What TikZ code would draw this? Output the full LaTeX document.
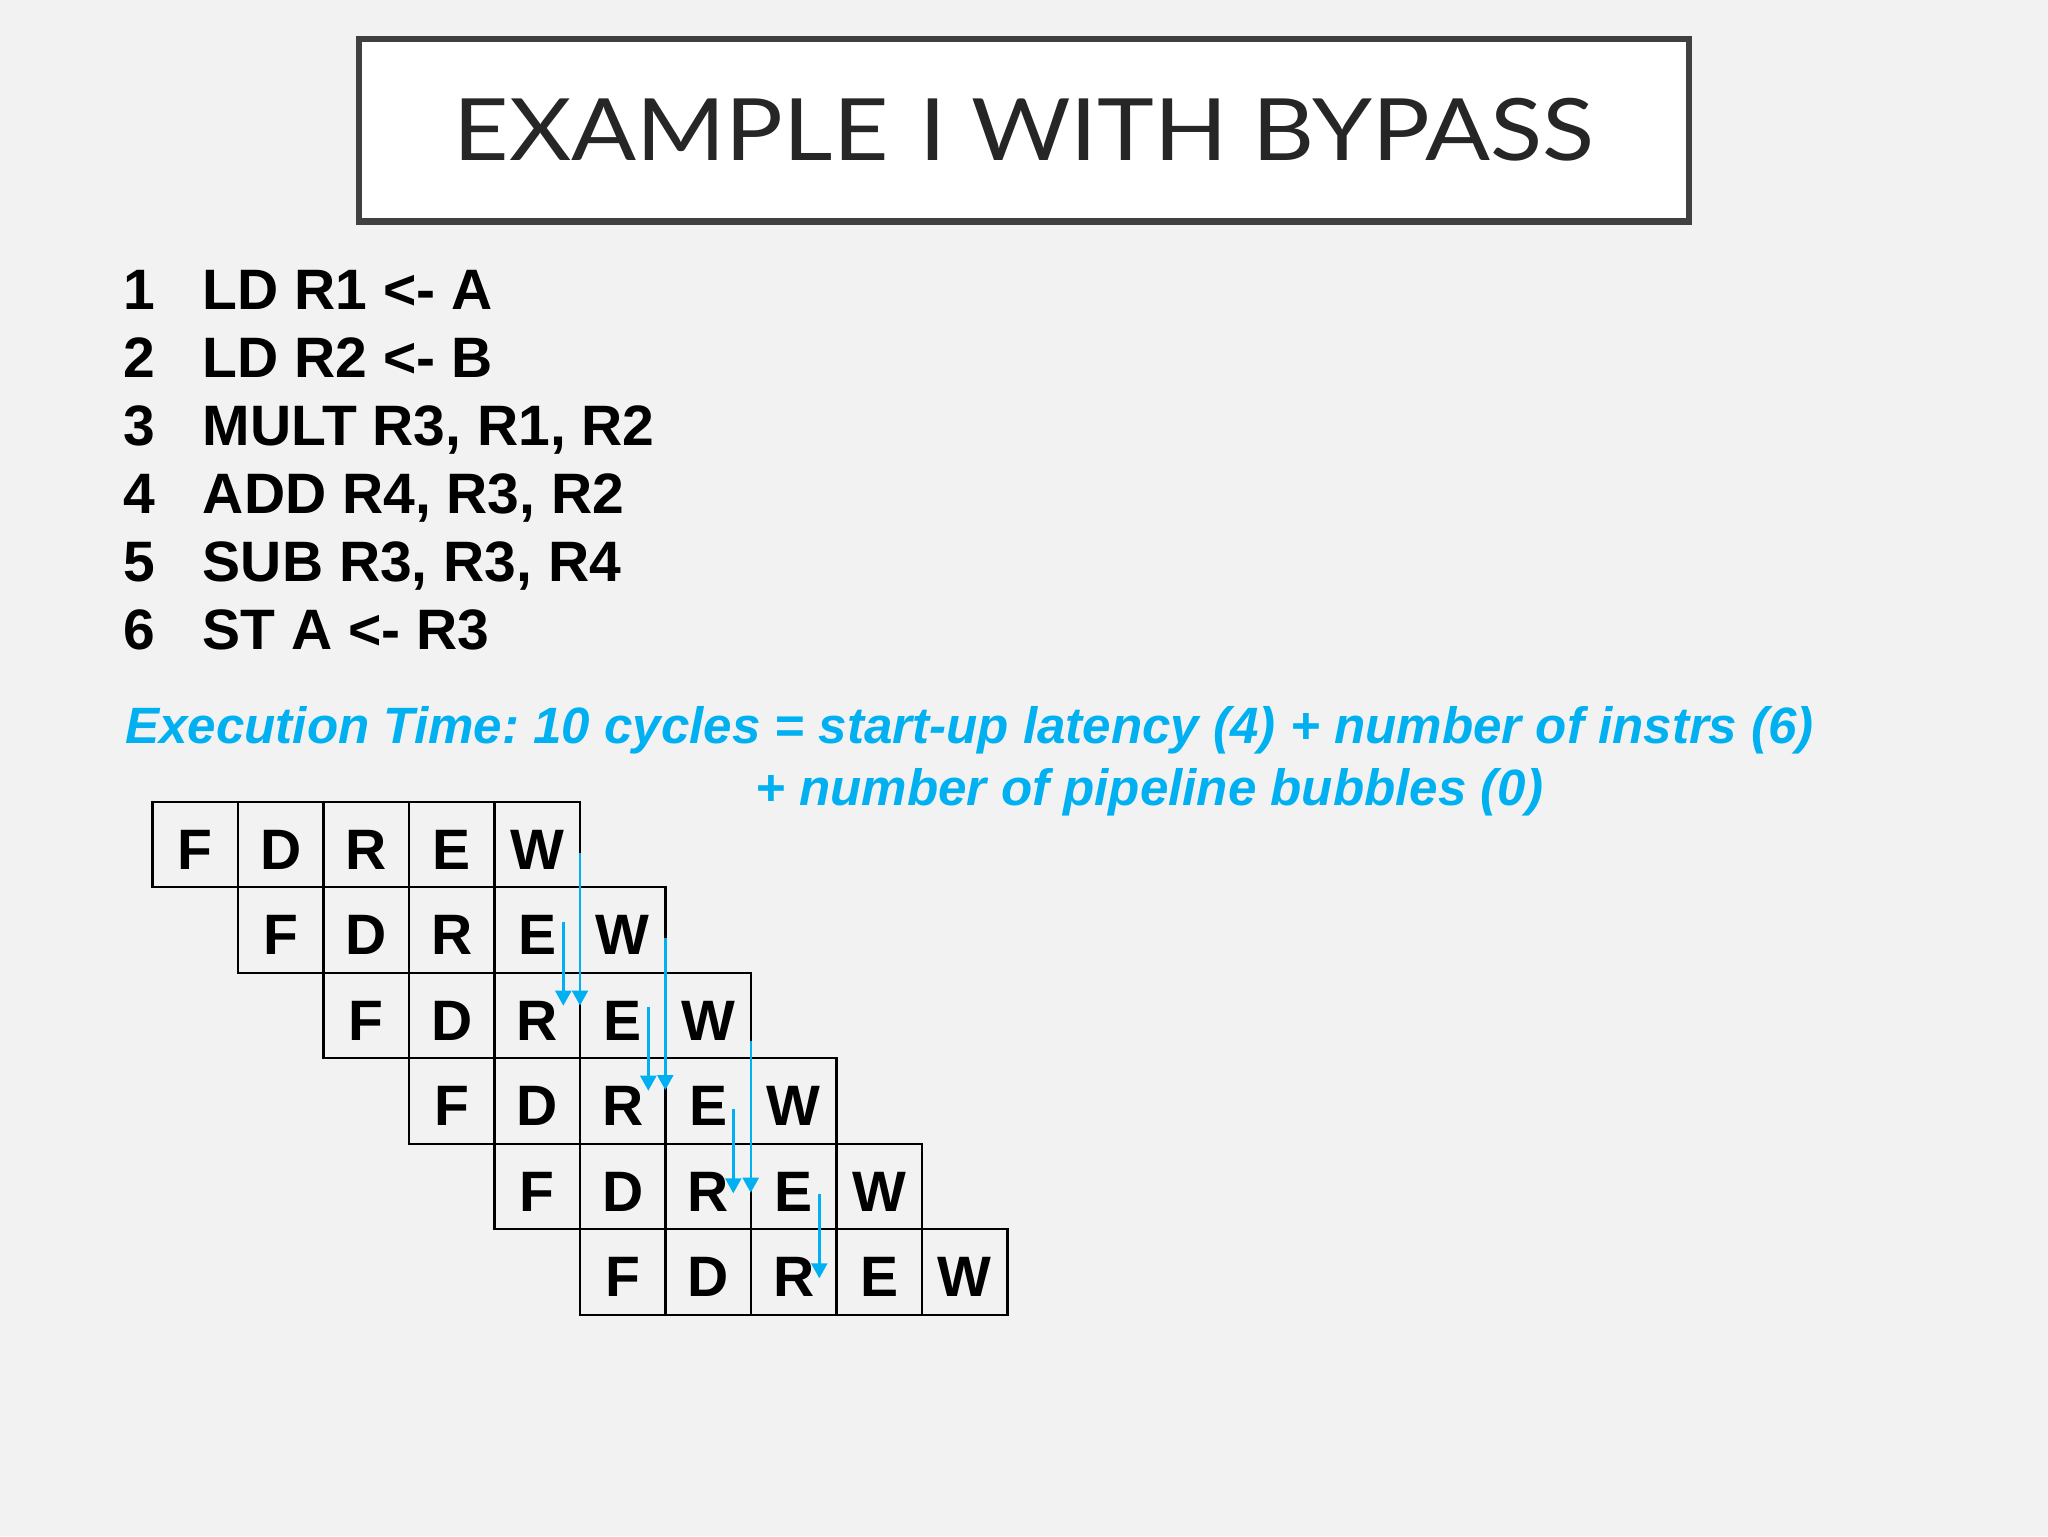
\documentclass[tikz,border=0pt]{standalone}
\usepackage{fontspec}
\usepackage{graphicx}
\setmainfont{Liberation Sans}
\newfontfamily\titlefont{Lato}
\usetikzlibrary{arrows.meta}
\definecolor{bg}{HTML}{F2F2F2}
\definecolor{bluetxt}{HTML}{00B0F0}
\definecolor{framecol}{HTML}{404040}
\definecolor{titletxt}{HTML}{262626}
\frenchspacing
\begin{document}
\begin{tikzpicture}[x=0.5pt,y=-0.5pt,
  instr/.style={anchor=base west,inner sep=0pt,font=\fontsize{28.5pt}{34pt}\selectfont\bfseries},
  bluetext/.style={anchor=base west,inner sep=0pt,text=bluetxt,font=\fontsize{25.55pt}{30pt}\selectfont\bfseries\itshape},
  cell/.style={draw=black,line width=1.2pt,anchor=north west,inner sep=0pt,outer sep=0pt,minimum width=42.75pt,text height=33.8pt,text depth=8.95pt,font=\fontsize{28.5pt}{34pt}\selectfont\bfseries},
  bypass/.style={draw=bluetxt,line width=1.2pt,-{Triangle[width=8pt,length=7.5pt]}}]
\fill[bg] (0,0) rectangle (2048,1536);
\useasboundingbox (0,0) rectangle (2048,1536);
% title
\node[draw=framecol,line width=3.3pt,fill=white,minimum width=665pt,minimum height=91.35pt,inner sep=0pt,outer sep=0pt] (titlebox) at (1024,130.35) {};
\node[anchor=base,inner sep=0pt,text=titletxt,font=\titlefont\fontsize{43pt}{50pt}\selectfont] (title) at (1024,160) {\scalebox{1.118}[1]{EXAMPLE\hspace{0.32em}I WITH BYPASS}};
% instructions
\node[instr] (n1) at (123.5,309) {1};
\node[instr] (i1) at (202.5,309) {LD R1 <- A};
\node[instr] (n2) at (123.5,377) {2};
\node[instr] (i2) at (202.5,377) {LD R2 <- B};
\node[instr] (n3) at (123.5,445) {3};
\node[instr] (i3) at (202.5,445) {MULT R3, R1, R2};
\node[instr] (n4) at (123.5,513) {4};
\node[instr] (i4) at (202.5,513) {ADD R4, R3, R2};
\node[instr] (n5) at (123.5,581) {5};
\node[instr] (i5) at (202.5,581) {SUB R3, R3, R4};
\node[instr] (n6) at (123.5,649) {6};
\node[instr] (i6) at (202.5,649) {ST A <- R3};
% execution time
\node[bluetext] (exec1) at (125,743.3) {Execution Time: 10 cycles = start-up latency (4) + number of instrs (6)};
\node[bluetext] (exec2) at (755,805) {+ number of pipeline bubbles (0)};
% pipeline grid
\foreach \r in {0,...,5} {
  \foreach \L [count=\k from 0] in {F,D,R,E,W} {
    \pgfmathsetmacro{\cx}{152.5+85.5*(\r+\k)}
    \pgfmathsetmacro{\cy}{801.7+85.5*\r}
    \node[cell] (c\r-\k) at (\cx,\cy) {\L};
  }
}
% bypass arrows
\coordinate (s1) at (580,853);   \coordinate (e1) at (580,1005.5);
\coordinate (s2) at (563.3,921.7); \coordinate (e2) at (563.3,1005.7);
\coordinate (s3) at (665.3,938.3); \coordinate (e3) at (665.3,1090);
\coordinate (s4) at (648.3,1006.7); \coordinate (e4) at (648.3,1090.7);
\coordinate (s5) at (750.7,1041); \coordinate (e5) at (750.7,1192.7);
\coordinate (s6) at (733.3,1109.3); \coordinate (e6) at (733.3,1193.3);
\coordinate (s7) at (819.3,1194.3); \coordinate (e7) at (819.3,1278.3);
\foreach \i in {1,...,7} { \draw[bypass] (s\i) -- (e\i); }
\end{tikzpicture}
\end{document}
